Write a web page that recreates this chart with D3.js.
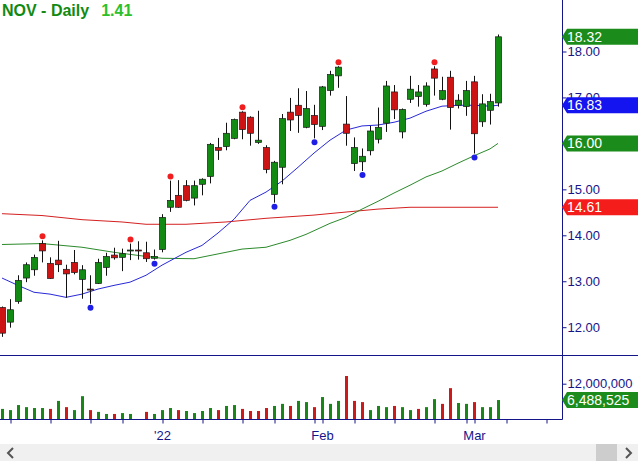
<!DOCTYPE html>
<html>
<head>
<meta charset="utf-8">
<script src="https://cdn.jsdelivr.net/npm/d3@7/dist/d3.min.js"></script>
<style>
  body { margin: 0; background: #fff; }
  svg { display: block; font-family: "Liberation Sans", Arial, sans-serif; }
</style>
</head>
<body>
<script>

var width = 638, height = 461;

// daily candles, Dec 3 2021 .. Mar 4 2022
var opens  = [12.43,12.11,12.56,13.07,13.25,13.82,13.39,13.46,13.26,13.41,13.04,12.83,12.95,13.30,13.57,13.52,13.66,13.68,13.62,13.50,
              13.69,14.61,14.87,15.08,14.81,15.11,15.28,15.91,15.93,16.11,16.68,16.57,16.02,15.91,14.89,15.48,16.68,16.83,16.35,16.61,
              16.37,17.15,17.47,16.42,15.56,15.60,15.84,16.09,16.44,17.12,16.25,16.96,17.02,16.85,17.62,16.96,17.44,16.83,16.80,17.34,
              16.47,16.72,16.88];
var highs  = [12.45,12.61,13.13,13.41,13.58,13.89,13.52,13.88,13.36,13.68,13.35,13.13,13.49,13.62,13.73,13.71,13.82,13.87,13.86,13.69,
              14.46,15.19,15.20,15.20,15.19,15.24,16.01,16.12,16.45,16.54,16.70,16.59,16.71,15.96,15.62,16.64,16.99,17.20,17.14,16.84,
              17.25,17.58,17.68,17.03,16.13,15.89,16.38,16.78,17.36,17.27,16.76,17.47,17.27,17.33,17.68,17.45,17.58,17.07,17.36,17.47,
              17.07,17.08,18.37];
var lows   = [11.79,11.99,12.51,12.98,13.12,13.41,13.05,13.20,12.64,13.15,12.62,12.51,12.94,13.12,13.47,13.22,13.46,13.47,13.42,13.47,
              13.63,14.51,14.60,14.74,14.65,14.87,15.13,15.64,15.85,16.09,16.09,15.95,15.99,15.35,14.71,15.11,16.27,16.23,16.33,16.11,
              16.29,17.04,17.21,15.95,15.40,15.40,15.74,16.00,16.25,16.53,16.11,16.88,16.80,16.80,17.04,16.94,16.30,16.76,16.60,15.78,
              16.36,16.41,16.80];
var closes = [11.87,12.38,13.02,13.36,13.52,13.66,13.06,13.36,13.16,13.19,13.25,12.81,13.41,13.54,13.51,13.60,13.68,13.66,13.49,13.54,
              14.39,14.76,14.61,14.76,15.08,15.22,15.98,15.85,16.22,16.52,16.30,16.22,16.07,15.43,15.59,16.54,16.51,16.61,16.76,16.41,
              17.23,17.50,17.66,16.22,15.91,15.72,16.27,16.35,17.25,16.73,16.74,17.18,17.12,17.25,17.42,17.15,16.78,16.94,17.15,16.21,
              16.86,16.91,18.32];
// volume, millions of shares
var volumes = [3.5,3.1,4.8,4.1,3.8,3.8,3.5,6.2,4.1,3.1,7.8,3.1,2.5,1.8,1.8,2.1,1.8,0.1,2.5,1.8,
               3.1,3.8,3.1,2.8,2.1,2.8,3.8,3.1,4.5,4.8,3.5,2.8,2.8,3.8,4.5,5.2,4.5,6.2,5.8,4.1,
               7.5,5.2,6.2,14.6,6.2,5.8,3.1,4.5,4.1,4.5,4.1,3.1,3.5,4.1,6.8,5.2,10.5,5.5,5.2,5.8,
               4.1,4.1,6.488525];

var change = 1.41;

// moving averages: [candle index, value]
var sma20 = [[0,13.07],[2,12.91],[4,12.76],[6,12.72],[8,12.65],[10,12.72],[12,12.83],[14,12.91],[16,12.98],[18,13.13],
             [20,13.35],[23,13.63],[25,13.78],[27,14.05],[29,14.35],[31,14.76],[33,14.94],[35,15.18],[37,15.48],[39,15.79],
             [41,16.07],[43,16.29],[45,16.38],[47,16.40],[49,16.46],[51,16.55],[53,16.70],[55,16.81],[57,16.83],[59,16.83],
             [61,16.81],[62,16.83]];
var sma50 = [[0,13.80],[5,13.82],[10,13.74],[14,13.63],[18,13.54],[20,13.50],[24,13.49],[28,13.63],[30,13.70],[33,13.74],
             [36,13.89],[38,14.02],[41,14.26],[43,14.39],[45,14.57],[47,14.74],[49,14.92],[51,15.09],[53,15.27],[55,15.40],
             [57,15.57],[59,15.73],[61,15.88],[62,16.00]];
var sma200 = [[0,14.47],[5,14.43],[10,14.34],[15,14.29],[18,14.24],[23,14.24],[28,14.29],[33,14.37],[39,14.44],[42,14.49],
              [47,14.57],[51,14.61],[62,14.61]];

var swingHighs = [5,16,21,30,42,54];
var swingLows  = [11,19,34,39,45,59];

var priceTicks = [12,13,14,15,16,17,18];
var weekTicks  = [1,6,11,15,20,25,30,34,39,40,44,49,54,58,59,63,68];
var monthLabels = {20: "'22", 40: "Feb", 59: "Mar"};

var navy = "#15158a", up = "#138a13", down = "#cc1414";

var svg = d3.select("body").append("svg")
  .attr("width", width)
  .attr("height", height);

var x = d3.scaleLinear().domain([0, 70]).range([2, 562]);
var y = d3.scaleLinear().domain([12, 18]).range([327.2, 51.5]);
var vy = d3.scaleLinear().domain([0, 12e6]).range([419.3, 383.7]);

var idx = d3.range(closes.length);

// --- moving averages
var line = d3.line().x(function(d) { return x(d[0]); }).y(function(d) { return y(d[1]); });
[[sma200, "#d42020"], [sma50, "#2a8a2a"], [sma20, "#2828d8"]].forEach(function(s) {
  svg.append("path").datum(s[0])
    .attr("d", line)
    .attr("fill", "none")
    .attr("stroke", s[1])
    .attr("stroke-width", 1);
});

// --- candles
var candle = svg.append("g").selectAll("g").data(idx).enter().append("g");
candle.append("line")
  .attr("x1", function(i) { return Math.round(x(i)) + 0.5; })
  .attr("x2", function(i) { return Math.round(x(i)) + 0.5; })
  .attr("y1", function(i) { return y(highs[i]); })
  .attr("y2", function(i) { return y(lows[i]); })
  .attr("stroke", "#111").attr("stroke-width", 1);
candle.append("rect")
  .attr("x", function(i) { return Math.round(x(i)) - 2.5; })
  .attr("width", 6)
  .attr("y", function(i) { return y(Math.max(opens[i], closes[i])); })
  .attr("height", function(i) { return Math.max(1, Math.abs(y(opens[i]) - y(closes[i]))); })
  .attr("fill", function(i) { return closes[i] >= opens[i] ? up : down; })
  .attr("stroke", "#1a1a1a").attr("stroke-width", 0.7);

// swing markers
svg.append("g").selectAll("circle").data(swingHighs).enter().append("circle")
  .attr("cx", function(i) { return Math.round(x(i)) + 0.5; })
  .attr("cy", function(i) { return y(highs[i]) - 4; })
  .attr("r", 3).attr("fill", "#f01e1e");
svg.append("g").selectAll("circle").data(swingLows).enter().append("circle")
  .attr("cx", function(i) { return Math.round(x(i)) + 0.5; })
  .attr("cy", function(i) { return y(lows[i]) + 4; })
  .attr("r", 3).attr("fill", "#1e1ee6");

// --- volume
svg.append("g").selectAll("rect").data(idx).enter().append("rect")
  .attr("x", function(i) { return Math.round(x(i)) - 1; })
  .attr("width", 3)
  .attr("y", function(i) { return vy(volumes[i] * 1e6); })
  .attr("height", function(i) { return vy(0) - vy(volumes[i] * 1e6); })
  .attr("fill", function(i) { return i > 0 && closes[i] < closes[i - 1] ? "#cc1a1a" : "#1a861a"; });

// --- frame lines
svg.append("line").attr("x1", 0).attr("x2", width).attr("y1", 355.5).attr("y2", 355.5)
  .attr("stroke", navy).attr("stroke-width", 1);
svg.append("line").attr("x1", 562.5).attr("x2", 562.5).attr("y1", 0).attr("y2", 419.5)
  .attr("stroke", navy).attr("stroke-width", 1);

// --- last value tags (positions needed to hide covered tick labels)
var last = closes.length - 1;
var tags = [
  { v: y(sma200[sma200.length - 1][1]), t: d3.format(".2f")(sma200[sma200.length - 1][1]), c: "#f51c1c" },
  { v: y(sma50[sma50.length - 1][1]),   t: d3.format(".2f")(sma50[sma50.length - 1][1]),   c: "#1b8c1b" },
  { v: y(sma20[sma20.length - 1][1]),   t: d3.format(".2f")(sma20[sma20.length - 1][1]),   c: "#1414f0" },
  { v: y(closes[last]),                 t: d3.format(".2f")(closes[last]),                 c: "#1b8c1b" },
  { v: vy(volumes[last] * 1e6),         t: d3.format(",")(Math.round(volumes[last] * 1e6)), c: "#1b8c1b" }
];

// --- axes
function styleAxis(g) {
  g.select(".domain").remove();
  g.selectAll(".tick line").attr("stroke", navy);
  g.selectAll(".tick text").attr("fill", navy).style("font-size", "13px")
    .style("font-family", "'Liberation Sans', Arial, sans-serif");
}

var yAxisG = svg.append("g").attr("transform", "translate(562.5,0)")
  .call(d3.axisRight(y).tickValues(priceTicks).tickFormat(d3.format(".2f")).tickSize(4).tickPadding(1))
  .call(styleAxis);
// a label sitting fully under a tag is not visible in the original
yAxisG.selectAll(".tick").filter(function(d) {
  return tags.some(function(t) { return Math.abs(t.v - y(d)) < 6; });
}).select("text").remove();

svg.append("g").attr("transform", "translate(562.5,0)")
  .call(d3.axisRight(vy).tickValues([12e6]).tickFormat(d3.format(",")).tickSize(4).tickPadding(1))
  .call(styleAxis);

var xAxisG = svg.append("g").attr("transform", "translate(0,419.5)")
  .call(d3.axisBottom(x).tickValues(weekTicks)
    .tickFormat(function(i) { return monthLabels[i] || ""; })
    .tickSize(4).tickPadding(7))
  .call(styleAxis);
xAxisG.selectAll(".tick line").attr("transform", "translate(0.5,0)");
svg.append("line").attr("x1", 0).attr("x2", 562.5).attr("y1", 419.5).attr("y2", 419.5)
  .attr("stroke", navy).attr("stroke-width", 1);

var tag = svg.append("g").selectAll("g").data(tags).enter().append("g");
tag.append("path")
  .attr("d", function(d) {
    var t = d.v - 8, b = d.v + 8;
    return "M562," + d.v + "L567," + t + "L638," + t + "L638," + b + "L567," + b + "Z";
  })
  .attr("fill", function(d) { return d.c; });
tag.append("text")
  .attr("x", 567).attr("y", function(d) { return d.v; }).attr("dy", "0.36em")
  .attr("fill", "#fff").style("font-size", "14px")
  .text(function(d) { return d.t; });

// --- title
var title = svg.append("text").attr("x", 2).attr("y", 16)
  .style("font-size", "16px").style("font-weight", "bold");
title.append("tspan").attr("fill", "#128a12").text("NOV - Daily");
title.append("tspan").attr("fill", "#2cc02c").attr("dx", 12).text(d3.format(".2f")(change));

// --- scrollbar strip
svg.append("rect").attr("x", 0).attr("y", 444).attr("width", width).attr("height", 17).attr("fill", "#f0f0f0");
svg.append("rect").attr("x", 596).attr("y", 444).attr("width", 21).attr("height", 17).attr("fill", "#cdcdcd");
svg.append("path").attr("d", "M13,448L8,453L13,458").attr("fill", "none").attr("stroke", "#555").attr("stroke-width", 2);
svg.append("path").attr("d", "M626,448L631,453L626,458").attr("fill", "none").attr("stroke", "#555").attr("stroke-width", 2);

</script>
</body>
</html>
